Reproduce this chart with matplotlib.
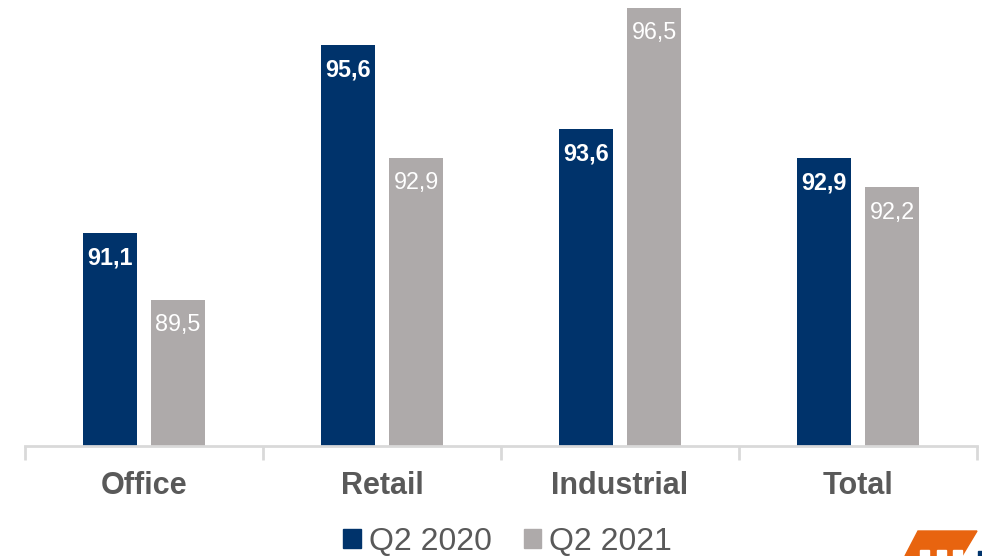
import matplotlib.pyplot as plt
import matplotlib.patches as mpatches
import numpy as np

plt.rcParams['font.family'] = ['Liberation Sans', 'DejaVu Sans']

categories = ['Office', 'Retail', 'Industrial', 'Total']
q2_2020 = [91.1, 95.6, 93.6, 92.9]
q2_2021 = [89.5, 92.9, 96.5, 92.2]
series_names = ['Q2 2020', 'Q2 2021']

blue = '#00336B'
grey = '#AEAAAA'
text_grey = '#595959'

fig = plt.figure(figsize=(9.82, 5.56), dpi=100)
ax = fig.add_axes([25 / 982, 110 / 556, 952 / 982, 446 / 556])

x = np.arange(len(categories))
w = 0.223
off = 0.143
bars1 = ax.bar(x - off, q2_2020, w, bottom=0, color=blue)
bars2 = ax.bar(x + off, q2_2021, w, bottom=0, color=grey)

ax.set_xlim(-0.5, 3.5)
ax.set_ylim(86, 96.68)

# value labels inside the bars, near the top
for b, v in zip(bars1, q2_2020):
    ax.annotate(f'{v:.1f}'.replace('.', ','), (b.get_x() + b.get_width() / 2, v),
                xytext=(0, -25), textcoords='offset pixels', ha='center', va='center',
                color='white', fontsize=16.8, fontweight='bold')
for b, v in zip(bars2, q2_2021):
    ax.annotate(f'{v:.1f}'.replace('.', ','), (b.get_x() + b.get_width() / 2, v),
                xytext=(0, -25), textcoords='offset pixels', ha='center', va='center',
                color='white', fontsize=16.8)

for s in ['top', 'right', 'left']:
    ax.spines[s].set_visible(False)
ax.spines['bottom'].set_color('#D9D9D9')
ax.spines['bottom'].set_linewidth(2)
ax.set_yticks([])

ax.set_xticks(x)
ax.set_xticklabels(categories, fontsize=22, fontweight='bold', color=text_grey)
ax.tick_params(axis='x', length=0, pad=18)
ax.set_xticks(np.arange(-0.5, 4, 1), minor=True)
ax.tick_params(axis='x', which='minor', length=10, width=2, color='#D9D9D9')

handles = [mpatches.Rectangle((0, 0), 1, 1, color=blue),
           mpatches.Rectangle((0, 0), 1, 1, color=grey)]
fig.legend(handles, series_names, loc='center', bbox_to_anchor=(0.517, 0.025),
           ncol=2, frameon=False, fontsize=23, labelcolor=text_grey,
           handlelength=0.55, handleheight=0.55, handletextpad=0.25,
           columnspacing=1.0, borderpad=0)

# logo fragment bottom right
fig.patches.append(mpatches.Polygon([(905 / 982, 0), (918 / 982, 25 / 556),
                                     (977 / 982, 25 / 556), (962 / 982, 0)],
                                    closed=True, transform=fig.transFigure,
                                    color='#E8640F'))
for bx in [920, 937, 953]:
    fig.patches.append(mpatches.Rectangle((bx / 982, 0), 9 / 982, 6 / 556,
                                          transform=fig.transFigure, color='white'))
fig.patches.append(mpatches.Rectangle((978 / 982, 0), 4 / 982, 5 / 556,
                                      transform=fig.transFigure, color=blue))

fig.savefig('out.png', dpi=100)
